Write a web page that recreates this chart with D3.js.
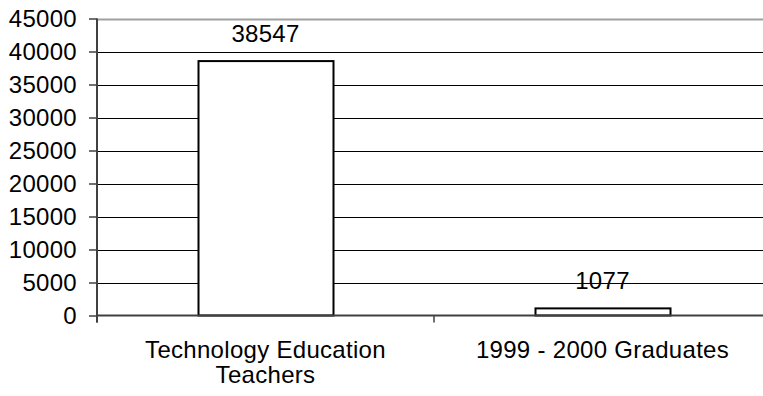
<!DOCTYPE html>
<html>
<head>
<meta charset="utf-8">
<script src="https://cdn.jsdelivr.net/npm/d3@7/dist/d3.min.js"></script>
<style>
  html, body { margin: 0; padding: 0; background: #fff; }
  svg { display: block; }
  text { font-family: "Liberation Sans", Arial, sans-serif; font-size: 24px; letter-spacing: 0.3px; fill: #000; }
</style>
</head>
<body>
<script>
// Chart data
const categories = [["Technology Education", "Teachers"], ["1999 - 2000 Graduates"]];
const values = [38547, 1077];
const yTicks = [0, 5000, 10000, 15000, 20000, 25000, 30000, 35000, 40000, 45000];

const W = 763, H = 396;
const plot = { left: 97, right: 771, top: 18.5, bottom: 315.5 };

const svg = d3.select("body").append("svg")
  .attr("width", W).attr("height", H);

const x = d3.scaleBand()
  .domain(d3.range(values.length))
  .range([plot.left, plot.right])
  .paddingInner(0.6)
  .paddingOuter(0.3);

const y = d3.scaleLinear()
  .domain([0, 45000])
  .range([plot.bottom, plot.top]);

// Horizontal gridlines
svg.append("g").selectAll("line")
  .data(yTicks.filter(t => t > 0 && t < 45000))
  .join("line")
  .attr("x1", plot.left).attr("x2", plot.right)
  .attr("y1", d => Math.round(y(d)) + 0.5).attr("y2", d => Math.round(y(d)) + 0.5)
  .attr("stroke", "#000").attr("stroke-width", 1);

// Top border of the plot area
svg.append("line")
  .attr("x1", plot.left).attr("x2", plot.right)
  .attr("y1", Math.round(y(45000)) + 0.5).attr("y2", Math.round(y(45000)) + 0.5)
  .attr("stroke", "#a0a0a0").attr("stroke-width", 2);

// Bars
svg.append("g").selectAll("rect")
  .data(values)
  .join("rect")
  .attr("x", (d, i) => Math.round(x(i)) + 0.5)
  .attr("width", Math.round(x.bandwidth()))
  .attr("y", d => y(d))
  .attr("height", d => y(0) - y(d))
  .attr("fill", "#fff")
  .attr("stroke", "#000")
  .attr("stroke-width", 2);

// Value labels
svg.append("g").selectAll("text")
  .data(values)
  .join("text")
  .attr("x", (d, i) => x(i) + x.bandwidth() / 2)
  .attr("y", d => y(d) - 19.5)
  .attr("text-anchor", "middle")
  .text(d => d);

// Y axis
const yAxis = d3.axisLeft(y)
  .tickValues(yTicks)
  .tickSize(8)
  .tickPadding(12)
  .tickFormat(d3.format("d"));
const gy = svg.append("g")
  .attr("transform", `translate(${plot.left},0)`)
  .call(yAxis);
gy.select(".domain").remove();
gy.selectAll(".tick line").attr("stroke", "#404040").attr("stroke-width", 1.5);
gy.selectAll(".tick text")
  .attr("font-family", null).attr("font-size", null)
  .style("font-size", "24px");
gy.append("line")
  .attr("x1", 0).attr("x2", 0)
  .attr("y1", plot.top).attr("y2", plot.bottom + 7)
  .attr("stroke", "#404040").attr("stroke-width", 2);

// X axis line and category dividers
const xAxis = svg.append("g");
xAxis.append("line")
  .attr("x1", plot.left).attr("x2", plot.right)
  .attr("y1", plot.bottom).attr("y2", plot.bottom)
  .attr("stroke", "#404040").attr("stroke-width", 2);
xAxis.selectAll(".divider")
  .data(d3.range(values.length + 1))
  .join("line")
  .attr("class", "divider")
  .attr("x1", i => plot.left + i * (plot.right - plot.left) / values.length)
  .attr("x2", i => plot.left + i * (plot.right - plot.left) / values.length)
  .attr("y1", plot.bottom).attr("y2", plot.bottom + 7)
  .attr("stroke", "#404040").attr("stroke-width", 1.5);

// Category labels
svg.append("g").selectAll("text")
  .data(categories)
  .join("text")
  .attr("x", (d, i) => x(i) + x.bandwidth() / 2)
  .attr("y", 358)
  .attr("text-anchor", "middle")
  .each(function(lines) {
    const t = d3.select(this);
    lines.forEach((ln, k) => {
      t.append("tspan")
        .attr("x", t.attr("x"))
        .attr("dy", k === 0 ? 0 : 25)
        .text(ln);
    });
  });
</script>
</body>
</html>
